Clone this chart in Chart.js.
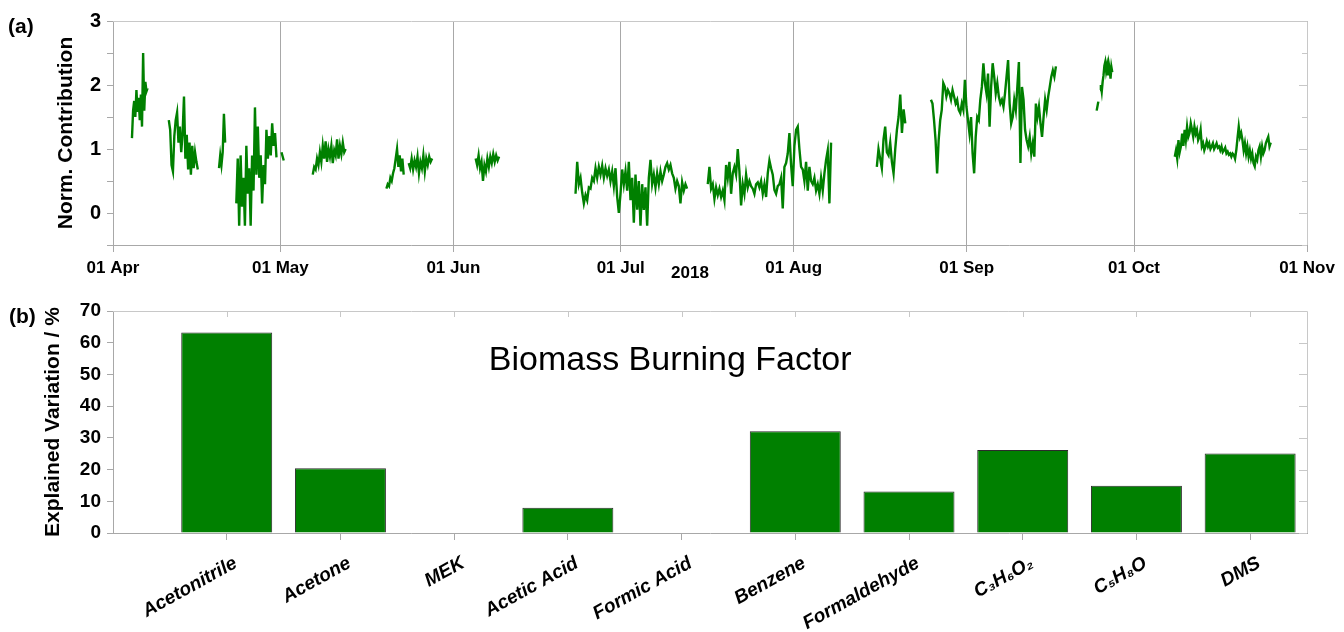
<!DOCTYPE html>
<html>
<head>
<meta charset="utf-8">
<title>Biomass Burning Factor</title>
<script src="https://cdn.jsdelivr.net/npm/chart.js@4.4.1/dist/chart.umd.min.js"></script>
<style>
  html, body { margin: 0; padding: 0; background: #fff; }
  #wrap { position: relative; width: 1344px; height: 632px; }
  #chartTop { position: absolute; left: 0; top: 0; }
  #chartBottom { position: absolute; left: 0; top: 290px; }
</style>
</head>
<body>
<div id="wrap">
  <canvas id="chartTop" width="1344" height="290"></canvas>
  <canvas id="chartBottom" width="1344" height="342"></canvas>
</div>
<script>
// ---- (a) time series: days after 01 Apr 2018, one array per measurement block ----
const monthTicks = [0, 30, 61, 91, 122, 153, 183, 214];
const monthLabels = ["01 Apr", "01 May", "01 Jun", "01 Jul", "01 Aug", "01 Sep", "01 Oct", "01 Nov"];

const segStart = [3.4, 10.0, 19.0, 22.1, 30.2, 35.8, 49.0, 53.0, 65.0, 82.9, 106.6, 136.9, 146.6, 176.3, 176.9, 190.3];
const segEnd   = [6.2, 15.2, 20.1, 29.3, 30.6, 41.7, 52.1, 57.2, 69.2, 102.9, 128.7, 142.0, 169.0, 176.6, 179.1, 207.5];

const aprEarly = [1.17, 1.6, 1.75, 1.5, 1.92, 1.58, 1.8, 1.45, 1.85, 1.35, 2.5, 1.6, 2.05, 1.9, 1.95];
const aprMid = [1.45, 1.3, 0.75, 0.65, 1.2, 1.45, 1.57, 1.1, 1.35, 0.95, 1.25, 1.82, 0.85, 1.22, 0.68, 1.1, 0.6, 1.05, 0.7, 0.95, 0.8, 0.68];
const aprShort = [0.7, 0.9, 0.75, 0.95, 1.55, 1.1];
const aprLate = [0.15, 0.85, -0.2, 0.9, 0.1, 0.55, -0.2, 1.05, 0.3, 0.7, -0.2, 0.9, 0.35, 1.65, 0.6, 1.35, 0.55, 0.9, 0.15, 0.75, 0.45, 1.3, 0.85, 1.2, 0.9, 1.4, 1.05, 1.25, 0.87];
const mayFirst = [0.95, 0.82];
const mayEarly = [0.6, 0.72, 0.68, 0.85, 0.75, 0.95, 0.8, 1.05, 0.85, 1.12, 0.8, 1.0, 0.88, 1.05, 0.78, 0.98, 0.9, 1.15, 0.85, 1.05, 0.92, 1.1, 0.95, 1.0];
const mayLateA = [0.38, 0.45, 0.42, 0.55, 0.5, 0.62, 0.7, 0.85, 1.0, 0.72, 0.9, 0.65, 0.85, 0.6];
const mayLateB = [0.78, 0.7, 0.85, 0.68, 0.82, 0.72, 0.88, 0.62, 0.8, 0.7, 0.9, 0.65, 0.85, 0.75, 0.88, 0.8, 0.85];
const junEarly = [0.85, 0.75, 0.9, 0.7, 0.8, 0.5, 0.75, 0.65, 0.85, 0.72, 0.88, 0.78, 0.92, 0.8, 0.9, 0.82, 0.88];
const junJul = [0.3, 0.8, 0.45, 0.55, 0.32, 0.15, 0.28, 0.2, 0.4, 0.38, 0.55, 0.5, 0.7, 0.55, 0.72, 0.6, 0.74, 0.55, 0.7, 0.58,
  0.68, 0.5, 0.65, 0.42, 0.7, 0.25, 0.0, 0.3, 0.68, 0.45, 0.65, 0.35, 0.8, 0.2, 0.55, -0.15, 0.6, 0.05, 0.5, -0.2,
  0.45, 0.05, 0.4, -0.2, 0.55, 0.83, 0.45, 0.6, 0.4, 0.62, 0.45, 0.65, 0.5, 0.6, 0.72, 0.78, 0.68, 0.75, 0.62, 0.55,
  0.38, 0.5, 0.42, 0.15, 0.48, 0.35, 0.45, 0.38];
const julAug = [0.45, 0.72, 0.38, 0.45, 0.22, 0.4, 0.28, 0.38, 0.25, 0.35, 0.2, 0.75, 0.55, 0.8, 0.3, 0.62, 0.72, 0.6, 1.0, 0.65,
  0.12, 0.45, 0.3, 0.6, 0.4, 0.5, 0.42, 0.38, 0.3, 0.45, 0.48, 0.4, 0.5, 0.3, 0.45, 0.25, 0.62, 0.82, 0.7, 0.6,
  0.36, 0.3, 0.42, 0.45, 0.55, 0.07, 0.72, 0.78, 0.93, 1.25, 0.75, 0.42, 1.05, 1.3, 1.35, 1.0, 0.72, 0.68, 0.5, 0.8,
  0.35, 0.72, 0.5, 0.45, 0.55, 0.35, 0.45, 0.3, 0.55, 0.35, 0.62, 0.83, 0.98, 0.15, 1.1];
const augMid = [0.72, 1.0, 0.85, 0.7, 1.15, 1.35, 0.95, 0.9, 1.1, 0.8, 0.62, 1.0, 1.3, 1.5, 1.85, 1.25, 1.62, 1.4];
const augSep = [1.77, 1.71, 1.45, 1.14, 0.62, 1.14, 1.45, 1.61, 2.03, 1.97, 1.82, 1.92, 1.87, 1.77, 1.92, 1.82, 1.71, 1.77, 1.61, 1.56,
  1.71, 1.61, 2.08, 1.66, 1.45, 1.24, 1.5, 0.93, 0.62, 1.19, 1.5, 1.45, 1.77, 1.97, 2.34, 2.03, 1.87, 2.18, 1.35, 1.97,
  2.34, 2.13, 1.87, 2.03, 1.82, 1.71, 1.77, 1.66, 1.87, 2.13, 2.39, 1.71, 1.4, 1.5, 1.77, 1.61, 1.97, 2.36, 0.78, 1.97,
  1.77, 1.3, 1.14, 1.04, 1.19, 0.93, 1.09, 0.88, 1.71, 1.5, 1.66, 1.4, 1.19, 1.5, 1.77, 1.61, 1.82, 1.97, 2.13, 2.23,
  2.13, 2.29];
const sepLateA = [1.6, 1.74];
const sepLateB = [1.92, 2.0, 1.9, 2.05, 2.15, 2.3, 2.36, 2.22, 2.3, 2.15, 2.33, 2.25, 2.1, 2.28, 2.2];
const oct = [0.88, 0.98, 0.85, 1.14, 0.95, 1.04, 1.24, 1.05, 1.3, 1.14, 1.35, 1.19, 1.25, 1.4, 1.3, 1.19, 1.35, 1.24, 1.3, 1.14,
  1.19, 1.3, 1.04, 1.09, 0.98, 1.04, 1.12, 1.04, 1.09, 1.0, 1.04, 1.09, 1.0, 1.04, 1.09, 1.02, 1.04, 0.98, 1.04, 0.95,
  0.98, 1.02, 0.93, 0.96, 0.91, 0.93, 0.88, 0.93, 0.91, 0.85, 0.98, 1.17, 1.35, 1.19, 1.25, 1.14, 0.98, 1.09, 0.93, 1.04,
  0.88, 0.98, 0.85, 0.93, 0.78, 0.73, 0.88, 0.83, 0.98, 1.04, 0.88, 1.04, 0.93, 0.98, 1.09, 1.14, 1.19, 1.04, 1.1];

const segValues = [aprEarly, aprMid, aprShort, aprLate, mayFirst, mayEarly, mayLateA, mayLateB, junEarly,
  junJul, julAug, augMid, augSep, sepLateA, sepLateB, oct];

// ---- (b) explained variation ----
const compounds = ["Acetonitrile", "Acetone", "MEK", "Acetic Acid", "Formic Acid", "Benzene", "Formaldehyde", "C\u2083H\u2086O\u2082", "C\u2085H\u2088O", "DMS"];
const explainedVar = [63.2, 20.4, 0, 8.0, 0, 32.1, 13.1, 26.2, 14.9, 25.1];

const FONT = "'Liberation Sans', Arial, Helvetica, sans-serif";
const GREEN = "#008000";
const AXIS_GREY = "#a8a8a8";

// build line points, a null between blocks breaks the trace
const seriesPoints = [];
segValues.forEach((vals, s) => {
  const step = vals.length > 1 ? (segEnd[s] - segStart[s]) / (vals.length - 1) : 0;
  vals.forEach((v, i) => seriesPoints.push({ x: segStart[s] + i * step, y: v }));
  seriesPoints.push({ x: segEnd[s] + 0.05, y: null });
});

// top + right frame lines and inward ticks
const frameTicks = {
  id: "frameTicks",
  afterDatasetsDraw(chart, args, opts) {
    const { ctx, chartArea: a, scales } = chart;
    ctx.save();
    ctx.strokeStyle = opts.color;
    ctx.lineWidth = 1;
    ctx.beginPath();
    ctx.moveTo(a.left, a.top + 0.5);
    ctx.lineTo(a.right + 0.5, a.top + 0.5);
    ctx.lineTo(a.right + 0.5, a.bottom);
    scales.y.ticks.forEach((t) => {
      const y = Math.round(scales.y.getPixelForValue(t.value)) + 0.5;
      const len = opts.isMajor(t.value) ? 8 : 5;
      ctx.moveTo(a.right - len, y);
      ctx.lineTo(a.right, y);
    });
    if (opts.topTicks) {
      scales.x.ticks.forEach((t) => {
        const x = Math.round(scales.x.getPixelForValue(t.value)) + 0.5;
        ctx.moveTo(x, a.top);
        ctx.lineTo(x, a.top + 6);
      });
    }
    ctx.stroke();
    ctx.restore();
  },
};

// free text: panel letters, year, factor name
const labels = {
  id: "labels",
  afterDraw(chart, args, opts) {
    const { ctx, scales } = chart;
    ctx.save();
    ctx.fillStyle = "#000";
    opts.items.forEach((it) => {
      ctx.font = it.font;
      ctx.textAlign = it.align || "left";
      ctx.textBaseline = "middle";
      const x = it.xv !== undefined ? scales.x.getPixelForValue(it.xv) : it.x;
      const y = it.yv !== undefined ? scales.y.getPixelForValue(it.yv) : it.y;
      ctx.fillText(it.text, x, y);
    });
    ctx.restore();
  },
};

Chart.defaults.font.family = FONT;
Chart.defaults.color = "#000";
Chart.defaults.animation = false;

// Init Chart (a)
new Chart(document.getElementById("chartTop"), {
  type: "line",
  data: {
    datasets: [
      {
        data: seriesPoints,
        borderColor: GREEN,
        borderWidth: 2.4,
        pointRadius: 0,
        spanGaps: false,
        tension: 0,
      },
    ],
  },
  options: {
    responsive: false,
    layout: { padding: { top: 21, right: 37, left: 0, bottom: 0 } },
    scales: {
      x: {
        type: "linear",
        min: 0,
        max: 214,
        afterBuildTicks: (scale) => { scale.ticks = monthTicks.map((v) => ({ value: v })); },
        afterFit: (scale) => { scale.height = 45; },
        ticks: {
          autoSkip: false,
          maxRotation: 0,
          padding: 6,
          font: { size: 17, weight: "bold" },
          callback: (v, i) => monthLabels[i],
        },
        grid: { color: AXIS_GREY, tickLength: 7, lineWidth: 1 },
        border: { color: AXIS_GREY },
      },
      y: {
        min: -0.5,
        max: 3,
        afterBuildTicks: (scale) => { scale.ticks = [-0.5, 0, 0.5, 1, 1.5, 2, 2.5, 3].map((v) => ({ value: v })); },
        afterFit: (scale) => { scale.width = 113; },
        ticks: {
          padding: 6,
          font: { size: 20, weight: "bold" },
          callback: (v) => (Number.isInteger(v) ? v : ""),
        },
        grid: { drawOnChartArea: false, color: AXIS_GREY, tickLength: 6 },
        border: { color: AXIS_GREY },
        title: {
          display: true,
          text: "Norm. Contribution",
          font: { size: 21, weight: "bold" },
          padding: { top: 54 },
        },
      },
    },
    plugins: {
      legend: { display: false },
      tooltip: { enabled: false },
      frameTicks: { color: "#c8c8c8", isMajor: (v) => Number.isInteger(v), topTicks: false },
      labels: {
        items: [
          { text: "(a)", x: 8, y: 27, font: "bold 21px " + FONT },
          { text: "2018", x: 690, y: 273, align: "center", font: "bold 17px " + FONT },
        ],
      },
    },
  },
  plugins: [frameTicks, labels],
});

// Init Chart (b)
new Chart(document.getElementById("chartBottom"), {
  type: "bar",
  data: {
    datasets: [
      {
        data: explainedVar.map((v, i) => ({ x: i + 1, y: v })),
        backgroundColor: GREEN,
        borderColor: "#2b2b2b",
        borderWidth: (c) => (c.raw && c.raw.y > 0 ? 1 : 0),
        borderSkipped: "bottom",
        categoryPercentage: 0.8,
        barPercentage: 1,
      },
    ],
  },
  options: {
    responsive: false,
    layout: { padding: { top: 21, right: 37, left: 0, bottom: 0 } },
    scales: {
      x: {
        type: "linear",
        min: 0,
        max: 10.5,
        offset: false,
        afterBuildTicks: (scale) => { scale.ticks = compounds.map((c, i) => ({ value: i + 1 })); },
        afterFit: (scale) => { scale.height = 99; },
        ticks: {
          autoSkip: false,
          minRotation: 29,
          maxRotation: 29,
          padding: 12,
          labelOffset: 9,
          font: { size: 19, weight: "bold", style: "italic" },
          callback: (v, i) => compounds[i],
        },
        grid: { drawOnChartArea: false, offset: false, color: AXIS_GREY, tickLength: 7 },
        border: { color: AXIS_GREY },
      },
      y: {
        min: 0,
        max: 70,
        afterBuildTicks: (scale) => {
          const t = [];
          for (let v = 0; v <= 70; v += 5) t.push({ value: v });
          scale.ticks = t;
        },
        afterFit: (scale) => { scale.width = 113; },
        ticks: {
          padding: 6,
          font: { size: 19, weight: "bold" },
          callback: (v) => (v % 10 === 0 ? v : ""),
        },
        grid: { drawOnChartArea: false, color: AXIS_GREY, tickLength: 6 },
        border: { color: AXIS_GREY },
        title: {
          display: true,
          text: "Explained Variation / %",
          font: { size: 21, weight: "bold" },
          padding: { top: 41 },
        },
      },
    },
    plugins: {
      legend: { display: false },
      tooltip: { enabled: false },
      frameTicks: { color: "#c8c8c8", isMajor: (v) => v % 10 === 0, topTicks: true },
      labels: {
        items: [
          { text: "(b)", x: 9, y: 27, font: "bold 21px " + FONT },
          { text: "Biomass Burning Factor", xv: 4.9, yv: 54.3, align: "center", font: "34px " + FONT },
        ],
      },
    },
  },
  plugins: [frameTicks, labels],
});
</script>
</body>
</html>
